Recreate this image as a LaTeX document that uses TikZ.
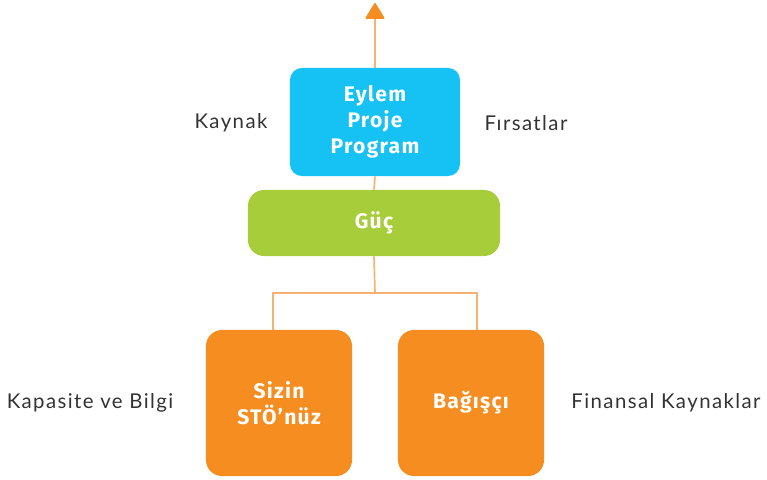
\documentclass[tikz,border=0pt]{standalone}
\usepackage{fontspec}
\setmainfont{Lato}[LetterSpace=7]
\newfontfamily\boxfont{Fira Sans}[LetterSpace=6]
\usetikzlibrary{arrows.meta,positioning}
\definecolor{cyanbox}{HTML}{16C1F3}
\definecolor{greenbox}{HTML}{A7CE3A}
\definecolor{orangebox}{HTML}{F68D20}
\definecolor{linkline}{HTML}{F7B272}
\definecolor{labeltext}{HTML}{333333}

\begin{document}
\begin{tikzpicture}[x=0.025cm,y=-0.025cm,
  box/.style={rounded corners=0.4cm,align=center,text=white,
    font=\boxfont\bfseries\fontsize{15}{18.5}\selectfont,inner sep=0pt},
  side label/.style={text=labeltext,font=\fontsize{14.5}{17}\selectfont},
  link/.style={draw=linkline,line width=1.2pt}]
  \useasboundingbox (0,0) rectangle (767,479);

  \node[box,fill=cyanbox,minimum width=4.25cm,minimum height=2.7cm,rounded corners=0.3cm] (action) at (375,122) {Eylem\\Proje\\Program};
  \node[box,fill=greenbox,minimum width=6.3cm,minimum height=1.65cm] (power) at (374,223) {Güç};
  \node[box,fill=orangebox,minimum width=3.65cm,minimum height=3.65cm] (ngo) at (279,403) {Sizin\\STÖ’nüz};
  \node[box,fill=orangebox,minimum width=3.65cm,minimum height=3.65cm] (donor) at (471,403) {Bağışçı};

  \node[side label] (source) at (231,123) {Kaynak};
  \node[side label] (chance) at (526,123) {Fırsatlar};
  \node[side label] (skill) at (90,403) {Kapasite ve Bilgi};
  \node[side label] (fund) at (666,403) {Finansal Kaynaklar};

  \coordinate (top) at (375,3);
  \coordinate (split) at (375,293);
  \draw[link,-{Triangle[round,width=0.5cm,length=0.42cm,color=orangebox]}] (action.north) -- (top);
  \draw[link] (action.south) -- (power.north);
  \draw[link] (power.south) -- (split);
  \draw[link] (split) -| (ngo.north -| 273,0);
  \draw[link] (split) -| (donor.north -| 477,0);
\end{tikzpicture}
\end{document}
